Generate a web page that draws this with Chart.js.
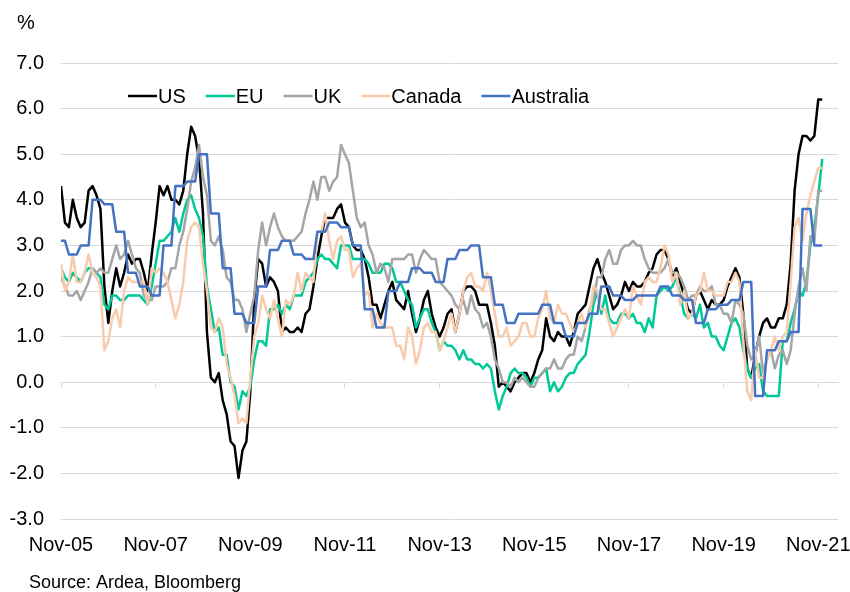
<!DOCTYPE html>
<html>
<head>
<meta charset="utf-8">
<script src="https://cdn.jsdelivr.net/npm/chart.js@4.4.0/dist/chart.umd.min.js"></script>
<style>
html,body{margin:0;padding:0;background:#ffffff;}
#wrap{width:850px;height:592px;position:relative;}
</style>
</head>
<body>
<div id="wrap"><canvas id="c" width="850" height="592"></canvas></div>
<script>
// Monthly observations, first point = Oct-05, last point = Nov-21
const tickLabels = ['Nov-05','Nov-07','Nov-09','Nov-11','Nov-13','Nov-15','Nov-17','Nov-19','Nov-21'];
const seriesNames = ['US','EU','UK','Canada','Australia'];
const unitLabel = '%';
const sourceText = 'Source: Ardea, Bloomberg';

const us = [
 4.3,3.5,3.4,
 4.0,3.6,3.4,3.5,4.2,4.3,4.1,3.8,2.1,1.3,2.0,2.5,
 2.1,2.4,2.8,2.6,2.7,2.7,2.4,2.0,2.8,3.5,4.3,4.1,
 4.3,4.0,4.0,3.9,4.2,5.0,5.6,5.4,4.9,3.7,1.1,0.1,
 0.0,0.2,-0.4,-0.7,-1.3,-1.4,-2.1,-1.5,-1.3,-0.2,1.8,2.7,
 2.6,2.1,2.3,2.2,2.0,1.1,1.2,1.1,1.1,1.2,1.1,1.5,
 1.6,2.1,2.7,3.2,3.6,3.6,3.6,3.8,3.9,3.5,3.4,3.0,
 2.9,2.9,2.7,2.3,1.7,1.7,1.4,1.7,2.0,2.2,1.8,1.7,
 1.6,2.0,1.5,1.1,1.4,1.8,2.0,1.5,1.2,1.0,1.2,1.5,
 1.6,1.1,1.5,2.0,2.1,2.1,2.0,1.7,1.7,1.7,1.3,0.8,
 -0.1,0.0,-0.1,-0.2,0.0,0.1,0.2,0.2,0.0,0.2,0.5,0.7,
 1.4,1.0,0.9,1.1,1.0,1.0,0.8,1.1,1.5,1.6,1.7,2.1,
 2.5,2.7,2.4,2.2,1.9,1.6,1.7,1.9,2.2,2.0,2.2,2.1,
 2.1,2.2,2.4,2.5,2.8,2.9,2.9,2.7,2.3,2.5,2.2,1.9,
 1.6,1.5,1.9,2.0,1.8,1.6,1.8,1.7,1.7,1.8,2.1,2.3,
 2.5,2.3,1.5,0.3,0.1,0.6,1.0,1.3,1.4,1.2,1.2,1.4,
 1.4,1.7,2.6,4.2,5.0,5.4,5.4,5.3,5.4,6.2,6.2
];
const eu = [
 2.5,2.3,2.2,
 2.4,2.3,2.2,2.4,2.5,2.5,2.4,2.3,1.7,1.6,1.9,1.9,
 1.8,1.8,1.9,1.9,1.9,1.9,1.8,1.7,2.1,2.6,3.1,3.1,
 3.2,3.3,3.6,3.3,3.7,4.0,4.1,3.8,3.6,3.2,2.1,1.6,
 1.1,1.2,0.6,0.6,0.0,-0.1,-0.6,-0.2,-0.3,-0.1,0.5,0.9,
 0.9,0.8,1.6,1.6,1.7,1.5,1.7,1.6,1.9,1.9,1.9,2.2,
 2.3,2.4,2.7,2.8,2.7,2.7,2.6,2.5,3.0,3.0,3.0,2.7,
 2.7,2.7,2.7,2.6,2.4,2.4,2.4,2.6,2.6,2.5,2.2,2.2,
 2.0,1.8,1.7,1.2,1.4,1.6,1.6,1.3,1.1,0.7,0.9,0.8,
 0.8,0.7,0.5,0.7,0.5,0.5,0.4,0.4,0.3,0.4,0.3,-0.2,
 -0.6,-0.3,-0.1,0.2,0.3,0.2,0.2,0.1,-0.1,0.1,0.1,0.2,
 0.3,-0.2,0.0,-0.2,-0.1,0.1,0.2,0.2,0.4,0.5,0.6,1.1,
 1.7,2.0,1.5,1.9,1.4,1.3,1.3,1.5,1.5,1.4,1.5,1.3,
 1.3,1.1,1.4,1.2,1.9,2.0,2.1,2.0,2.1,2.3,1.9,1.5,
 1.4,1.5,1.4,1.7,1.2,1.3,1.0,1.0,0.8,0.7,1.0,1.3,
 1.4,1.2,0.7,0.3,0.1,0.3,0.4,-0.2,-0.3,-0.3,-0.3,-0.3,
 0.9,0.9,1.3,1.6,2.0,1.9,2.2,3.0,3.4,4.1,4.9
];
const uk = [
 2.3,2.1,1.9,
 1.9,2.0,1.8,2.0,2.2,2.5,2.4,2.5,2.4,2.4,2.7,3.0,
 2.7,2.8,3.1,2.8,2.5,2.4,1.9,1.8,1.8,2.1,2.1,2.1,
 2.2,2.5,2.5,3.0,3.3,3.8,4.4,4.7,5.2,4.5,4.1,3.1,
 3.0,3.2,2.9,2.3,2.2,1.8,1.8,1.6,1.1,1.5,1.9,2.9,
 3.5,3.0,3.4,3.7,3.4,3.2,3.1,3.1,3.1,3.2,3.3,3.7,
 4.0,4.4,4.0,4.5,4.5,4.2,4.4,4.5,5.2,5.0,4.8,4.2,
 3.6,3.4,3.5,3.0,2.8,2.4,2.6,2.5,2.2,2.7,2.7,2.7,
 2.7,2.8,2.8,2.4,2.7,2.9,2.8,2.7,2.7,2.2,2.1,2.0,
 1.9,1.7,1.6,1.8,1.5,1.9,1.6,1.5,1.2,1.3,1.0,0.5,
 0.3,0.0,0.0,-0.1,0.1,0.0,0.1,0.0,-0.1,-0.1,0.1,0.2,
 0.3,0.3,0.5,0.3,0.3,0.5,0.6,0.6,1.0,0.9,1.2,1.6,
 1.8,2.3,2.3,2.7,2.9,2.6,2.6,2.9,3.0,3.0,3.1,3.0,
 3.0,2.7,2.5,2.4,2.4,2.4,2.5,2.7,2.4,2.4,2.3,2.1,
 1.8,1.9,1.9,2.1,2.0,2.0,2.1,1.7,1.7,1.5,1.5,1.3,
 1.8,1.7,1.5,0.8,0.5,0.6,1.0,0.2,0.5,0.7,0.3,0.6,
 0.7,0.4,0.7,1.5,2.1,2.5,2.0,3.2,3.1,4.2,4.2
];
const canada = [
 2.6,2.0,2.2,
 2.8,2.2,2.2,2.4,2.8,2.4,2.3,2.1,0.7,0.9,1.4,1.6,
 1.2,2.0,2.3,2.2,2.2,2.2,2.2,1.7,2.5,2.4,2.5,2.4,
 2.2,1.8,1.4,1.7,2.2,3.1,3.4,3.5,3.4,2.6,2.0,1.2,
 1.1,1.4,1.2,0.4,0.1,-0.3,-0.9,-0.8,-0.9,0.1,1.0,1.3,
 1.9,1.6,1.4,1.8,1.4,1.0,1.8,1.7,1.9,2.4,2.0,2.4,
 2.3,2.2,3.3,3.3,3.7,3.1,2.7,3.1,3.2,2.9,2.9,2.3,
 2.5,2.6,1.9,2.0,1.2,1.5,1.3,1.2,1.2,1.2,0.8,0.8,
 0.5,1.2,1.0,0.4,0.7,1.2,1.3,1.1,1.1,0.7,0.9,1.2,
 1.5,1.1,1.5,2.0,2.3,2.4,2.1,2.1,2.0,2.4,2.0,1.5,
 1.0,1.0,1.2,0.8,0.9,1.0,1.3,1.3,1.0,1.0,1.4,1.6,
 2.0,1.4,1.3,1.7,1.5,1.5,1.3,1.1,1.3,1.5,1.2,1.5,
 2.1,2.0,1.6,1.6,1.3,1.0,1.2,1.4,1.6,1.4,2.1,1.9,
 1.7,2.2,2.3,2.2,2.2,2.5,3.0,2.8,2.2,2.4,1.7,2.0,
 1.4,1.5,1.9,2.0,2.4,2.0,2.0,1.9,1.9,1.9,2.2,2.2,
 2.4,2.2,0.9,-0.2,-0.4,0.7,0.1,0.1,0.5,0.7,1.0,0.7,
 1.0,1.1,2.2,3.4,3.6,3.1,3.7,4.1,4.4,4.7,4.7
];
const australia = [
 3.1,3.1,
 2.8,2.8,2.8, 3.0,3.0,3.0, 4.0,4.0,4.0, 3.9,3.9,3.9,
 3.3,3.3,3.3, 2.4,2.4,2.4, 2.1,2.1,2.1, 1.9,1.9,1.9,
 3.0,3.0,3.0, 4.3,4.3,4.3, 4.4,4.4,4.4, 5.0,5.0,5.0,
 3.7,3.7,3.7, 2.5,2.5,2.5, 1.5,1.5,1.5, 1.3,1.3,1.3,
 2.1,2.1,2.1, 2.9,2.9,2.9, 3.1,3.1,3.1, 2.8,2.8,2.8,
 2.7,2.7,2.7, 3.3,3.3,3.3, 3.5,3.5,3.5, 3.4,3.4,3.4,
 3.0,3.0,3.0, 1.6,1.6,1.6, 1.2,1.2,1.2, 2.0,2.0,2.0,
 2.2,2.2,2.2, 2.5,2.5,2.5, 2.4,2.4,2.4, 2.2,2.2,2.2,
 2.7,2.7,2.7, 2.9,2.9,2.9, 3.0,3.0,3.0, 2.3,2.3,2.3,
 1.7,1.7,1.7, 1.3,1.3,1.3, 1.5,1.5,1.5, 1.5,1.5,1.5,
 1.7,1.7,1.7, 1.3,1.3,1.3, 1.0,1.0,1.0, 1.3,1.3,1.3,
 1.5,1.5,1.5, 2.1,2.1,2.1, 1.9,1.9,1.9, 1.8,1.8,1.8,
 1.9,1.9,1.9, 1.9,1.9,1.9, 2.1,2.1,2.1, 1.9,1.9,1.9,
 1.8,1.8,1.8, 1.3,1.3,1.3, 1.6,1.6,1.6, 1.7,1.7,1.7,
 1.8,1.8,1.8, 2.2,2.2,2.2, -0.3,-0.3,-0.3, 0.7,0.7,0.7,
 0.9,0.9,0.9, 1.1,1.1,1.1, 3.8,3.8,3.8, 3.0,3.0,3.0
];

const seriesValues = [us, eu, uk, canada, australia];
const seriesColors = ['#000000', '#00C896', '#A5A5A5', '#F8CBAD', '#4472C4'];

const FONT = '"Liberation Sans", Arial, Helvetica, sans-serif';
const monthsPerTick = 24;
const xMax = 197;

function tickList() { return tickLabels.map((_, k) => ({ value: k * monthsPerTick })); }

const textPlugin = {
  id: 'texts',
  afterDraw(chart) {
    const ctx = chart.ctx;
    ctx.save();
    ctx.fillStyle = '#000000';
    ctx.textAlign = 'left';
    ctx.textBaseline = 'alphabetic';
    ctx.font = '20px ' + FONT;
    ctx.fillText(unitLabel, 17, 29);
    ctx.font = '18px ' + FONT;
    ctx.fillText(sourceText, 29, 588);
    // legend
    let x = 128;
    const y = 96;
    ctx.font = '20px ' + FONT;
    chart.data.datasets.forEach(ds => {
      ctx.strokeStyle = ds.borderColor;
      ctx.lineWidth = 2.5;
      ctx.beginPath();
      ctx.moveTo(x, y);
      ctx.lineTo(x + 29, y);
      ctx.stroke();
      ctx.fillStyle = '#000000';
      ctx.fillText(ds.label, x + 30, 103);
      x += 30 + ctx.measureText(ds.label).width + 20;
    });
    ctx.restore();
  }
};

const datasets = seriesNames.map((name, k) => ({
  label: name,
  data: seriesValues[k].map((v, i) => ({ x: i, y: v })),
  borderColor: seriesColors[k],
  backgroundColor: seriesColors[k],
  borderWidth: 2.5,
  pointRadius: 0,
  tension: 0,
  fill: false,
  order: seriesNames.length - 1 - k,
  xAxisID: 'x',
  yAxisID: 'y'
}));

new Chart(document.getElementById('c'), {
  type: 'line',
  data: { datasets },
  plugins: [textPlugin],
  options: {
    responsive: false,
    animation: false,
    devicePixelRatio: 1,
    layout: { padding: { top: 63, left: 4, right: 12, bottom: 35 } },
    plugins: {
      legend: { display: false },
      tooltip: { enabled: false },
      title: { display: false }
    },
    elements: { line: { borderJoinStyle: 'round', borderCapStyle: 'butt' } },
    scales: {
      x: {
        type: 'linear', axis: 'x', position: 'bottom', min: 0, max: xMax,
        grid: { display: false, drawTicks: false },
        border: { display: false },
        ticks: {
          autoSkip: false, maxRotation: 0, minRotation: 0, padding: 14,
          color: '#000000', font: { family: FONT, size: 20 },
          callback: (v) => tickLabels[Math.round(v / monthsPerTick)]
        },
        afterBuildTicks: (s) => { s.ticks = tickList(); },
        afterFit: (s) => { s.paddingLeft = 0; s.paddingRight = 0; s.height = 38; }
      },
      xt: {
        type: 'linear', axis: 'x', position: { y: 0 }, min: 0, max: xMax,
        grid: { drawOnChartArea: false, drawTicks: true, tickLength: 5, color: '#D9D9D9', lineWidth: 1 },
        border: { display: true, color: '#D9D9D9', width: 1 },
        ticks: { display: false },
        afterBuildTicks: (s) => { s.ticks = tickList(); },
        afterFit: (s) => { s.paddingLeft = 0; s.paddingRight = 0; }
      },
      y: {
        type: 'linear', position: 'left', min: -3, max: 7,
        grid: { color: '#D9D9D9', lineWidth: 1, drawTicks: false },
        border: { display: false },
        ticks: {
          stepSize: 1, padding: 17, color: '#000000',
          font: { family: FONT, size: 20 },
          callback: (v) => Number(v).toFixed(1)
        },
        afterFit: (s) => { s.width = 57; s.paddingTop = 0; s.paddingBottom = 0; }
      }
    }
  }
});
</script>
</body>
</html>
